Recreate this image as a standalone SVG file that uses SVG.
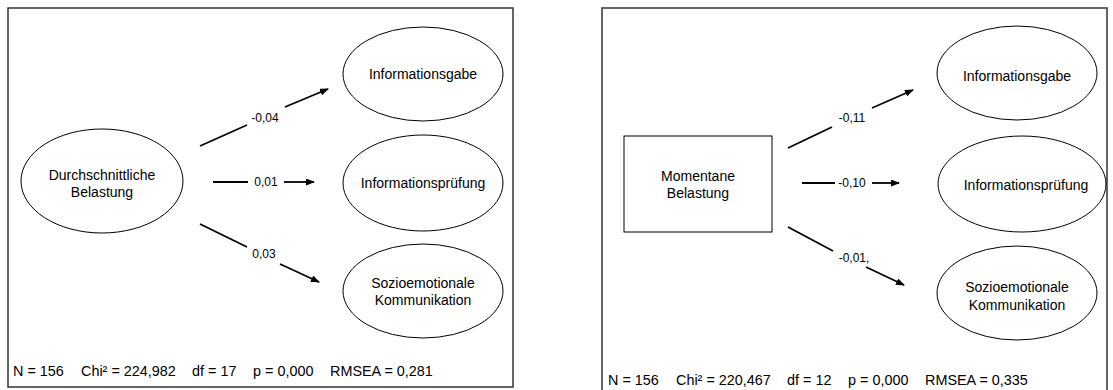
<svg xmlns="http://www.w3.org/2000/svg" width="1113" height="390" viewBox="0 0 1113 390">
<style>
.frame{fill:none;stroke:#333;stroke-width:1.5}
.node{fill:#fff;stroke:#000;stroke-width:1}
.lbl{font-family:"Liberation Sans",Arial,sans-serif;font-size:14px;fill:#000;text-anchor:middle}
.elbl{font-family:"Liberation Sans",Arial,sans-serif;font-size:12px;fill:#000;text-anchor:middle}
.stat{font-family:"Liberation Sans",Arial,sans-serif;font-size:14.4px;fill:#000}
.edge{stroke:#000;stroke-width:1.8;fill:none}
.arr{marker-end:url(#ah)}
</style>
<defs>
<marker id="ah" markerUnits="userSpaceOnUse" markerWidth="9" markerHeight="7" refX="8" refY="3.5" orient="auto">
<path d="M0,0 L9,3.5 L0,7 z" fill="#000"/>
</marker>
</defs>
<rect width="1113" height="390" fill="#fff"/>
<g id="panel-left">
<rect class="frame" x="8" y="8" width="505" height="379"/>
<text class="stat" y="376"><tspan x="13">N = 156</tspan><tspan x="81">Chi² = 224,982</tspan><tspan x="192">df = 17</tspan><tspan x="253">p = 0,000</tspan><tspan x="330">RMSEA = 0,281</tspan></text>
</g>
<g id="panel-right">
<rect class="frame" x="602" y="8" width="505" height="400"/>
<text class="stat" y="385"><tspan x="608">N = 156</tspan><tspan x="676">Chi² = 220,467</tspan><tspan x="787">df = 12</tspan><tspan x="848">p = 0,000</tspan><tspan x="925">RMSEA = 0,335</tspan></text>
</g>
<g id="L-src">
<ellipse class="node" cx="102" cy="181" rx="81" ry="52"/>
<text class="lbl" x="102" y="180">Durchschnittliche</text>
<text class="lbl" x="102" y="197">Belastung</text>
</g>
<g id="L-gabe">
<ellipse class="node" cx="423" cy="74" rx="80" ry="47"/>
<text class="lbl" x="423" y="79">Informationsgabe</text>
</g>
<g id="L-pruef">
<ellipse class="node" cx="423" cy="183" rx="80" ry="48"/>
<text class="lbl" x="423" y="188">Informationsprüfung</text>
</g>
<g id="L-sozio">
<ellipse class="node" cx="423" cy="291" rx="80" ry="47"/>
<text class="lbl" x="423" y="288">Sozioemotionale</text>
<text class="lbl" x="423" y="305">Kommunikation</text>
</g>
<g id="R-src">
<rect class="node" x="624" y="136" width="148" height="96"/>
<text class="lbl" x="698" y="181">Momentane</text>
<text class="lbl" x="698" y="198">Belastung</text>
</g>
<g id="R-gabe">
<ellipse class="node" cx="1017" cy="73" rx="80" ry="47"/>
<text class="lbl" x="1017" y="81">Informationsgabe</text>
</g>
<g id="R-pruef">
<ellipse class="node" cx="1022" cy="184" rx="84" ry="48"/>
<text class="lbl" x="1026" y="190">Informationsprüfung</text>
</g>
<g id="R-sozio">
<ellipse class="node" cx="1017" cy="293" rx="80" ry="47"/>
<text class="lbl" x="1017" y="292">Sozioemotionale</text>
<text class="lbl" x="1017" y="310">Kommunikation</text>
</g>
<g id="connectors">
<line class="edge" x1="200" y1="146" x2="247" y2="125"/>
<line class="edge arr" x1="285" y1="107" x2="328" y2="89"/>
<text class="elbl" x="265" y="122">-0,04</text>
<line class="edge" x1="213" y1="182" x2="248" y2="182"/>
<line class="edge arr" x1="284" y1="182" x2="314" y2="182"/>
<text class="elbl" x="266" y="186">0,01</text>
<line class="edge" x1="200" y1="224" x2="247" y2="247"/>
<line class="edge arr" x1="280" y1="264" x2="319" y2="282"/>
<text class="elbl" x="264" y="258">0,03</text>
<line class="edge" x1="788" y1="148" x2="832" y2="127"/>
<line class="edge arr" x1="872" y1="108" x2="913" y2="90"/>
<text class="elbl" x="852" y="122">-0,11</text>
<line class="edge" x1="802" y1="183" x2="835" y2="183"/>
<line class="edge arr" x1="872" y1="183" x2="899" y2="183"/>
<text class="elbl" x="852" y="187">-0,10</text>
<line class="edge" x1="788" y1="227" x2="833" y2="251"/>
<line class="edge arr" x1="866" y1="267" x2="904" y2="285"/>
<text class="elbl" x="854" y="262">-0,01,</text>
</g>
</svg>
